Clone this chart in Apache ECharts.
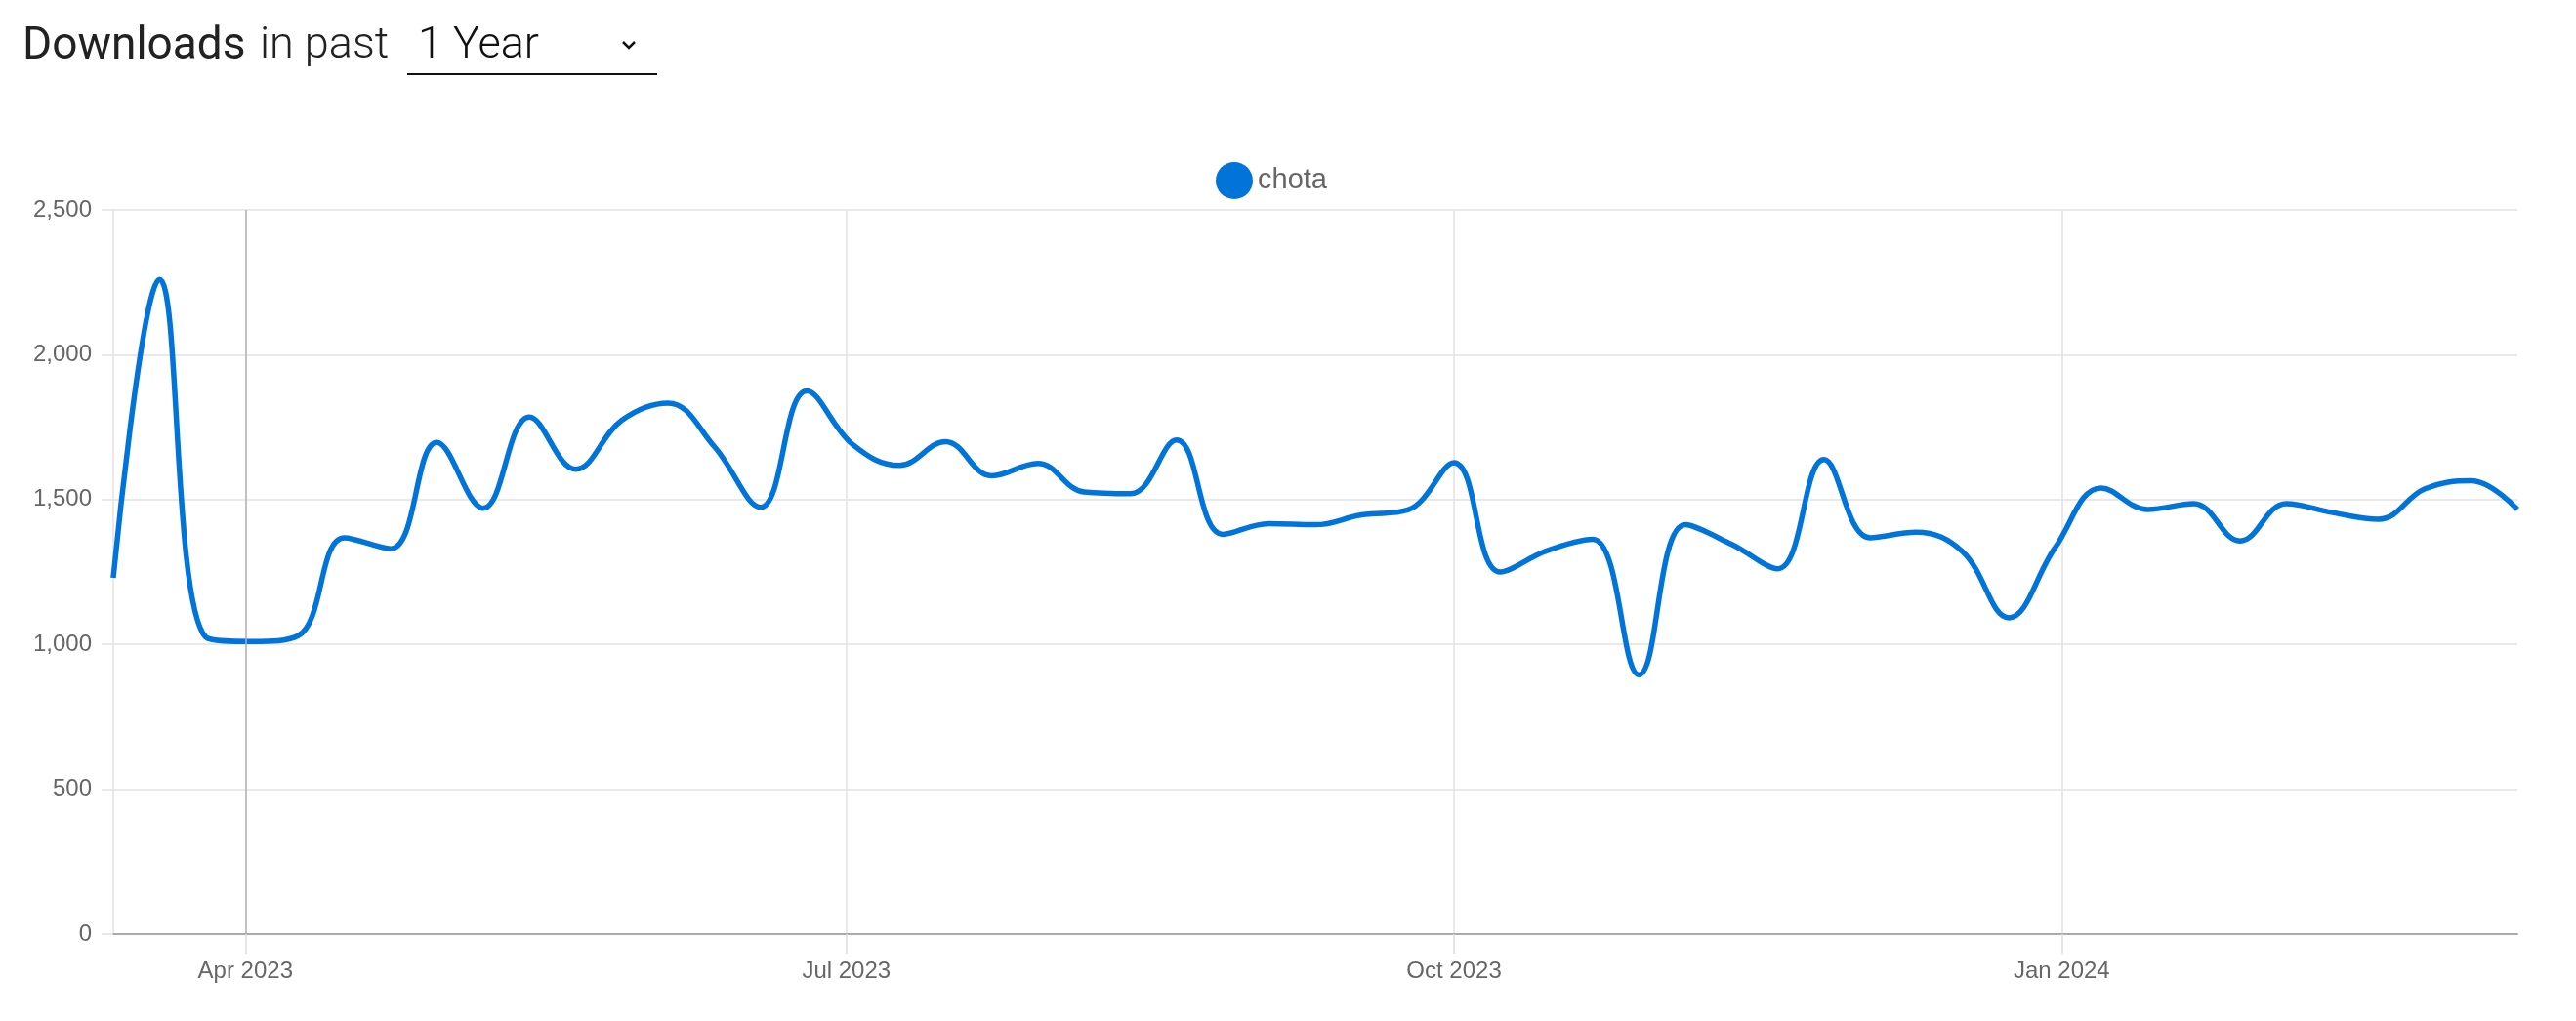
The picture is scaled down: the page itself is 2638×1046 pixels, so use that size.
<!DOCTYPE html>
<html>
<head>
<meta charset="utf-8">
<script src="https://cdn.jsdelivr.net/npm/echarts@6/dist/echarts.min.js"></script>
<style>
html,body{margin:0;padding:0;background:#fff;}
#chart{width:2638px;height:1046px;}
</style>
</head>
<body>
<div id="chart"></div>
<script>
// ---- data ----
const weeks = [
  '2023-03-12','2023-03-19','2023-03-26','2023-04-02','2023-04-09','2023-04-16','2023-04-23','2023-04-30',
  '2023-05-07','2023-05-14','2023-05-21','2023-05-28','2023-06-04','2023-06-11','2023-06-18','2023-06-25',
  '2023-07-02','2023-07-09','2023-07-16','2023-07-23','2023-07-30','2023-08-06','2023-08-13','2023-08-20',
  '2023-08-27','2023-09-03','2023-09-10','2023-09-17','2023-09-24','2023-10-01','2023-10-08','2023-10-15',
  '2023-10-22','2023-10-29','2023-11-05','2023-11-12','2023-11-19','2023-11-26','2023-12-03','2023-12-10',
  '2023-12-17','2023-12-24','2023-12-31','2024-01-07','2024-01-14','2024-01-21','2024-01-28','2024-02-04',
  '2024-02-11','2024-02-18','2024-02-25','2024-03-03','2024-03-10'
];
const chotaDownloads = [
  1230, 2260, 1025, 1010, 1030, 1368, 1330, 1697,
  1470, 1785, 1605, 1774, 1833, 1683, 1473, 1875,
  1689, 1618, 1700, 1582, 1625, 1526, 1520, 1706,
  1380, 1417, 1413, 1447, 1464, 1627, 1250, 1323,
  1363, 895, 1413, 1346, 1261, 1638, 1368, 1387,
  1320, 1092, 1334, 1540, 1466, 1486, 1357, 1486,
  1455, 1432, 1537, 1565, 1466
];
const seriesName = 'chota';
const xTickDates = ['2023-04-01', '2023-07-01', '2023-10-01', '2024-01-01'];
const xTickLabels = ['Apr 2023', 'Jul 2023', 'Oct 2023', 'Jan 2024'];
const yTicks = [0, 500, 1000, 1500, 2000, 2500];
const xRange = ['2023-03-12', '2024-03-10'];
const highlightDate = '2023-04-01';

// ---- chart ----
const toTs = s => { const p = s.split('-').map(Number); return Date.UTC(p[0], p[1]-1, p[2]); };
const tickTs = xTickDates.map(toTs);
const labelFor = v => { const i = tickTs.indexOf(v); return i >= 0 ? xTickLabels[i] : ''; };

const chart = echarts.init(document.getElementById('chart'), null, {renderer: 'canvas'});
chart.setOption({
  animation: false,
  backgroundColor: '#ffffff',
  graphic: [
    {type: 'text', style: {text: 'Downloads', x: 23, y: 48, font: '400 46px Roboto', fill: '#222', verticalAlign: 'middle'}},
    {type: 'text', style: {text: 'in past', x: 266, y: 48, font: '300 45px Roboto', fill: '#222', verticalAlign: 'middle'}},
    {type: 'text', style: {text: '1 Year', x: 428, y: 48, font: '300 45px Roboto', fill: '#111', verticalAlign: 'middle'}},
    {type: 'polyline', shape: {points: [[638, 43], [644, 49], [650, 43]]}, style: {stroke: '#111', lineWidth: 2.5, fill: null}},
    {type: 'line', shape: {x1: 417, y1: 76, x2: 673, y2: 76}, style: {stroke: '#111', lineWidth: 2}}
  ],
  legend: {
    data: [seriesName],
    icon: 'circle',
    left: 1240,
    top: 161,
    itemWidth: 38,
    itemHeight: 38,
    itemGap: 12,
    textStyle: {fontFamily: 'Liberation Sans', fontSize: 29, color: '#666'}
  },
  grid: {left: 116, right: 2638 - 2578, top: 215, bottom: 1046 - 957, containLabel: false},
  xAxis: {
    type: 'value',
    min: toTs(xRange[0]),
    max: toTs(xRange[1]),
    axisLine: {show: true, lineStyle: {color: '#aaaaaa', width: 2}},
    axisTick: {show: true, customValues: tickTs, length: 20, lineStyle: {color: '#dddddd', width: 1.5}},
    axisLabel: {
      customValues: tickTs,
      formatter: v => labelFor(v),
      fontFamily: 'Liberation Sans', fontSize: 24, color: '#666', margin: 26
    },
    splitLine: {show: true, lineStyle: {color: '#e2e2e2', width: 1.5}}
  },
  yAxis: {
    type: 'value',
    min: yTicks[0],
    max: yTicks[yTicks.length - 1],
    interval: yTicks[1] - yTicks[0],
    axisLine: {show: true, lineStyle: {color: '#e2e2e2', width: 1.5}},
    axisTick: {show: true, length: 12, lineStyle: {color: '#e2e2e2', width: 1.5}},
    axisLabel: {
      formatter: v => v.toLocaleString('en-US'),
      fontFamily: 'Liberation Sans', fontSize: 24, color: '#666', margin: 22
    },
    splitLine: {show: true, lineStyle: {color: '#e2e2e2', width: 1.5}}
  },
  series: [{
    name: seriesName,
    type: 'line',
    data: weeks.map((d, i) => [toTs(d), chotaDownloads[i]]),
    smooth: 0.4,
    smoothConstraint: false,
    showSymbol: false,
    symbol: 'none',
    color: '#0074d9',
    lineStyle: {color: '#0074d9', width: 5.5},
    markLine: {
      silent: true,
      symbol: 'none',
      label: {show: false},
      lineStyle: {color: '#b3b3b3', width: 1.5, type: 'solid'},
      data: [{xAxis: toTs(highlightDate)}]
    }
  }]
});
</script>
</body>
</html>
